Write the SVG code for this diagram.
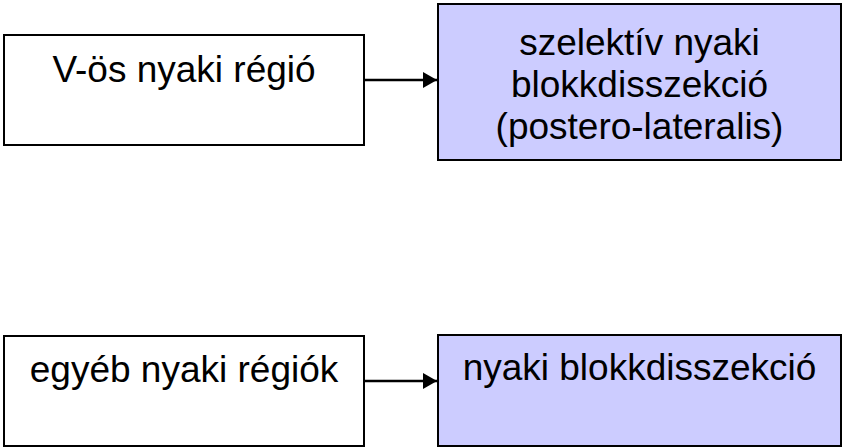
<svg xmlns="http://www.w3.org/2000/svg" width="844" height="448" viewBox="0 0 844 448">
<style>
.box{stroke:#000;stroke-width:2}
.w{fill:#fff}
.p{fill:#ccccff}
text{font-family:"Liberation Sans",Arial,sans-serif;font-size:37px;fill:#000;text-anchor:middle}
.c{stroke:#000;stroke-width:2.5;fill:none}
</style>
<defs>
<marker id="ah" markerWidth="16" markerHeight="18" refX="14" refY="8" orient="auto" markerUnits="userSpaceOnUse">
<path d="M0,0 L14,8 L0,16 z" fill="#000"/>
</marker>
</defs>
<rect width="844" height="448" fill="#fff"/>
<g id="n1"><rect class="box w" x="4" y="35" width="360" height="110"/><text x="184" y="82">V-ös nyaki régió</text></g>
<g id="n2"><rect class="box p" x="438" y="4" width="403" height="156"/><text x="639.5" y="55">szelektív nyaki</text><text x="639.5" y="97">blokkdisszekció</text><text x="639.5" y="139">(postero-lateralis)</text></g>
<g id="n3"><rect class="box w" x="4" y="336" width="360" height="110"/><text x="184" y="382">egyéb nyaki régiók</text></g>
<g id="n4"><rect class="box p" x="438" y="335" width="403" height="111"/><text x="639.5" y="380">nyaki blokkdisszekció</text></g>
<g id="connectors">
<line class="c" x1="365" y1="80" x2="437" y2="80" marker-end="url(#ah)"/>
<line class="c" x1="365" y1="381" x2="437" y2="381" marker-end="url(#ah)"/>
</g>
</svg>
